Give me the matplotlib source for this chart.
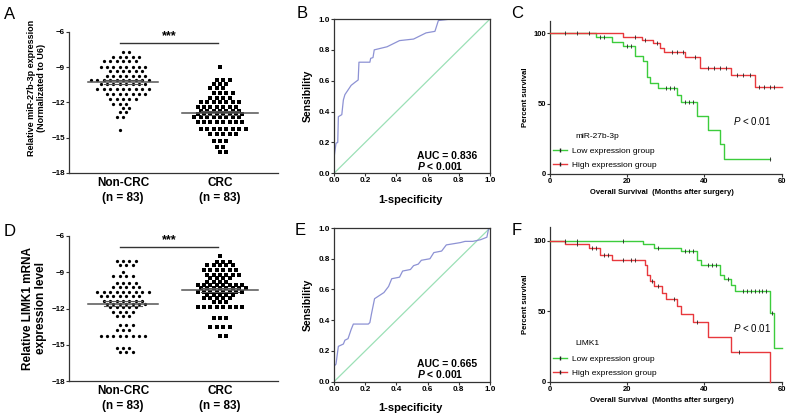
import numpy as np
import matplotlib
matplotlib.use("Agg")
import matplotlib.pyplot as plt
from matplotlib.lines import Line2D

plt.rcParams['font.family'] = ['Liberation Sans', 'DejaVu Sans']
plt.rcParams['mathtext.fontset'] = 'custom'
plt.rcParams['mathtext.rm'] = 'Liberation Sans'
plt.rcParams['mathtext.it'] = 'Liberation Sans:italic'
plt.rcParams['mathtext.bf'] = 'Liberation Sans:bold'
plt.rcParams['mathtext.bfit'] = 'Liberation Sans:italic:bold'

W, H = 792, 419

# ---- scatter data: (value, count) rows ----
a_noncrc_rows = [(-7.7, 2), (-8.15, 5), (-8.5, 6), (-8.95, 8), (-9.3, 6), (-9.75, 7),
                 (-10.1, 10), (-10.4, 8), (-10.85, 9), (-11.3, 7), (-11.7, 5), (-12.1, 3),
                 (-12.5, 2), (-12.85, 2), (-13.2, 2), (-14.3, 1)]
a_crc_rows = [(-9.0, 1), (-10.1, 3), (-10.45, 3), (-10.8, 3), (-11.2, 4), (-11.65, 4),
              (-12.0, 7), (-12.35, 7), (-12.7, 7), (-12.95, 8), (-13.25, 8), (-13.7, 8),
              (-14.25, 8), (-14.65, 5), (-15.3, 3), (-15.75, 2), (-16.2, 2)]
d_noncrc_rows = [(-8.1, 4), (-8.4, 3), (-9.0, 1), (-9.3, 4), (-9.9, 4), (-10.2, 5),
                 (-10.6, 9), (-11.0, 7), (-11.35, 7), (-11.6, 7), (-11.9, 5), (-12.3, 4),
                 (-12.65, 3), (-13.4, 3), (-13.75, 3), (-14.3, 8), (-15.25, 3), (-15.55, 3)]
d_crc_rows = [(-7.7, 1), (-8.15, 3), (-8.45, 5), (-8.85, 6), (-9.2, 6), (-9.5, 4),
              (-9.85, 4), (-10.1, 8), (-10.35, 8), (-10.6, 8), (-10.85, 5), (-11.15, 5),
              (-11.45, 3), (-11.85, 8), (-12.75, 3), (-13.5, 4), (-14.3, 2)]
group_labels = ["Non-CRC\n(n = 83)", "CRC\n(n = 83)"]
a_ylabel = "Relative miR-27b-3p expression\n(Normalizated to U6)"
d_ylabel = "Relative LIMK1 mRNA\nexpression level"

# ---- ROC curves ----
b_fpr = [0, 0, 0.013, 0.024, 0.028, 0.05, 0.06, 0.07, 0.09, 0.11, 0.135, 0.155, 0.16,
         0.23, 0.235, 0.25, 0.258, 0.34, 0.38, 0.42, 0.51, 0.55, 0.59, 0.647, 0.669, 0.75, 1.0]
b_tpr = [0, 0.1, 0.195, 0.2, 0.367, 0.38, 0.475, 0.51, 0.54, 0.57, 0.59, 0.605, 0.72,
         0.72, 0.745, 0.75, 0.80, 0.82, 0.84, 0.86, 0.87, 0.89, 0.91, 0.92, 0.99, 1.0, 1.0]
e_fpr = [0, 0, 0.013, 0.02, 0.028, 0.06, 0.07, 0.09, 0.10, 0.11, 0.124, 0.22, 0.23, 0.24,
         0.25, 0.26, 0.29, 0.32, 0.35, 0.37, 0.42, 0.44, 0.49, 0.51, 0.54, 0.56, 0.615,
         0.64, 0.69, 0.72, 0.81, 0.84, 0.89, 0.94, 0.98, 0.99, 1.0]
e_tpr = [0, 0.1, 0.115, 0.17, 0.23, 0.245, 0.27, 0.28, 0.31, 0.34, 0.375, 0.375, 0.385,
         0.44, 0.49, 0.54, 0.56, 0.58, 0.62, 0.67, 0.68, 0.72, 0.73, 0.755, 0.765, 0.79,
         0.80, 0.84, 0.85, 0.89, 0.905, 0.913, 0.913, 0.924, 0.94, 0.99, 1.0]
b_auc, e_auc = "0.836", "0.665"

# ---- Kaplan-Meier curves: event times, survival (%) after event, censored times ----
c_low_t = [0, 12, 16, 19, 22, 24, 25, 26, 28, 33, 34, 38, 41, 44, 45]
c_low_s = [100, 97.3, 93.5, 90.8, 84.0, 80.5, 69.0, 65.0, 61.0, 56.0, 51.0, 41.0, 31.0, 21.0, 10.5]
c_low_end = 57
c_low_cens = [13, 14, 20, 21, 30, 31, 32, 35, 36, 37, 57]
c_high_t = [0, 19, 23.7, 26.6, 28.5, 29.5, 35, 38.9, 46.8, 53.1]
c_high_s = [100, 97.6, 95.3, 92.9, 89.8, 86.5, 83.4, 75.6, 70.6, 61.6]
c_high_end = 60
c_high_cens = [4, 7, 10, 22, 24.6, 27.6, 31.5, 33, 34.5, 37.5, 41, 42.5, 44, 45.5,
               48.3, 50, 51.8, 54, 55.5, 57, 58]
f_low_t = [0, 24, 27, 34, 38, 39, 44, 45, 47, 48, 57, 58]
f_low_s = [100, 97.6, 95.0, 92.4, 86.5, 83.0, 76.0, 72.6, 68.6, 64.5, 48.6, 24.0]
f_low_end = 60
f_low_cens = [4, 7, 19, 28, 35, 36, 37, 41, 42, 43, 46, 50, 51, 52, 53, 54, 55, 56, 57.5]
f_high_t = [0, 4, 10, 13, 16, 24.5, 25, 26, 27, 29, 30, 33, 34, 37, 41, 47, 57]
f_high_s = [100, 97.6, 95.0, 90.0, 86.5, 82.5, 75.6, 71.6, 67.6, 63.0, 58.5, 54.0,
            48.0, 42.0, 31.6, 21.0, 0.0]
f_high_end = 57
f_high_cens = [7, 11, 12, 14, 15, 19, 21, 22, 26.5, 28, 32, 38, 49]

GREEN = '#3ccc3c'
RED = '#e8383d'
ROC_BLUE = '#8d92d4'
DIAG = '#9be0b6'
AXC = '#333333'


def expand(rows):
    out = []
    for v, n in rows:
        out += [v] * n
    return np.array(out)


def swarm_x(vals, center, step=0.066):
    # rows of equal value spread sideways, consecutive rows staggered
    xs = np.empty(len(vals))
    for i, v in enumerate(np.unique(vals)[::-1]):
        idx = np.where(vals == v)[0]
        n = len(idx)
        off = (np.arange(n) - (n - 1) / 2) * step
        if (n + 1) % 2 != i % 2:
            off += step / 2 * (1 if (i // 2) % 2 == 0 else -1)
        xs[idx] = center + off
    return xs


def px_axes(fig, left, right, top, bottom):
    return fig.add_axes([left / W, 1 - bottom / H, (right - left) / W, (bottom - top) / H])


def style_spines(ax, box=False, labelsize=5.8):
    for s in ['top', 'right']:
        ax.spines[s].set_visible(box)
    for s in ax.spines.values():
        s.set_color(AXC)
        s.set_linewidth(0.9)
    ax.tick_params(direction='out', length=2, width=0.8, color=AXC, pad=1, labelsize=labelsize)
    for lab in ax.get_xticklabels() + ax.get_yticklabels():
        lab.set_fontweight('bold')


def dot_panel(ax, rows0, rows1, ylabel, ylab_x, ylab_y, ylab_size):
    v0, v1 = expand(rows0), expand(rows1)
    ax.scatter(swarm_x(v0, 0), v0, s=5.5, marker='o', color='black', linewidths=0)
    ax.scatter(swarm_x(v1, 1), v1, s=6, marker='s', color='black', linewidths=0)
    for c, v, hw in [(0, v0, 0.36), (1, v1, 0.39)]:
        m = v.mean()
        sem = v.std(ddof=1) / np.sqrt(len(v))
        ax.plot([c - hw, c + hw], [m, m], color='#555555', lw=1.1, zorder=3)
        for e in (m - sem, m + sem):
            ax.plot([c - 0.2, c + 0.2], [e, e], color='#555555', lw=0.8, zorder=3)
    ax.plot([-0.03, 0.98], [-6.95, -6.95], color=AXC, lw=1.0)
    ax.text(0.475, -6.85, "***", ha='center', va='bottom', fontsize=9, fontweight='bold')
    ax.set_xlim(-0.557, 1.598)
    ax.set_ylim(-18, -6)
    ax.set_yticks([-6, -9, -12, -15, -18])
    ax.set_xticks([0, 1])
    ax.set_xticklabels(group_labels, fontsize=8.5, fontweight='bold', linespacing=1.3)
    style_spines(ax)
    ax.tick_params(axis='x', length=0, pad=3, labelsize=8.5)
    ax.set_ylabel(ylabel, fontsize=ylab_size, fontweight='bold', linespacing=1.1)
    ax.yaxis.set_label_coords(ylab_x, ylab_y)


def roc_panel(ax, fpr, tpr, auc):
    ax.plot([0, 1], [0, 1], color=DIAG, lw=0.9)
    ax.plot(fpr, tpr, color=ROC_BLUE, lw=0.9)
    ax.set_xlim(0, 1)
    ax.set_ylim(0, 1)
    ticks = [0.0, 0.2, 0.4, 0.6, 0.8, 1.0]
    ax.set_xticks(ticks)
    ax.set_yticks(ticks)
    ax.set_xticklabels([f"{t:.1f}" for t in ticks])
    ax.set_yticklabels([f"{t:.1f}" for t in ticks])
    style_spines(ax, box=True)
    ax.set_xlabel("1-specificity", fontsize=8, fontweight='bold')
    ax.set_ylabel("Sensibility", fontsize=7.5, fontweight='bold')
    ax.xaxis.set_label_coords(0.49, -0.14)
    ax.yaxis.set_label_coords(-0.135, 0.5)
    ax.text(0.53, 0.115, "AUC = " + auc, fontsize=7.5, fontweight='bold', va='center')
    ax.text(0.53, 0.047, r"$\mathbfit{P}$ < 0.001", fontsize=7.5, fontweight='bold', va='center')


def km_curve(ax, t, s, end, cens, color):
    tt = list(t) + [end]
    ss = list(s) + [s[-1]]
    ax.step(tt, ss, where='post', color=color, lw=1.0, clip_on=False, zorder=3)
    cy = [s[np.searchsorted(t, c, side='right') - 1] for c in cens]
    ax.plot(cens, cy, ls='none', marker='|', ms=2.5, mew=0.6, color='#222222',
            clip_on=False, zorder=4)


def km_panel(ax, low, high, title, ytop):
    km_curve(ax, *low, GREEN)
    km_curve(ax, *high, RED)
    ax.set_xlim(0, 60)
    ax.set_ylim(0, ytop)
    ax.set_xticks([0, 20, 40, 60])
    ax.set_yticks([0, 50, 100])
    style_spines(ax, labelsize=5.5)
    ax.set_xlabel("Overall Survival  (Months after surgery)", fontsize=5.5, fontweight='bold')
    ax.set_ylabel("Percent survival", fontsize=5.6, fontweight='bold')
    ax.xaxis.set_label_coords(0.483, -0.1)
    ax.yaxis.set_label_coords(-0.09, 0.5)
    ax.text(47.4, 38, r"$\mathit{P}$ < 0.01", fontsize=7, va='center')
    ax.text(0.108, 0.245, title, transform=ax.transAxes, fontsize=6, va='center')
    handles = [Line2D([], [], color=GREEN, lw=1.0, marker='|', ms=2.5, mec='#222222'),
               Line2D([], [], color=RED, lw=1.0, marker='|', ms=2.5, mec='#222222')]
    ax.legend(handles, ["Low expression group", "High expression group"],
              loc='upper left', bbox_to_anchor=(0.0, 0.195), frameon=False,
              fontsize=6, handlelength=1.6, handletextpad=0.6, labelspacing=0.75,
              borderpad=0.2, borderaxespad=0.2)


fig = plt.figure(figsize=(W / 100, H / 100), dpi=100)

axA = px_axes(fig, 69, 278, 32, 173)
dot_panel(axA, a_noncrc_rows, a_crc_rows, a_ylabel, -0.112, 0.6, 6.5)
axD = px_axes(fig, 69, 278, 235.7, 381.3)
dot_panel(axD, d_noncrc_rows, d_crc_rows, d_ylabel, -0.105, 0.5, 8.5)

axB = px_axes(fig, 334, 490, 19, 173.3)
roc_panel(axB, b_fpr, b_tpr, b_auc)
axE = px_axes(fig, 334, 490, 228, 381.7)
roc_panel(axE, e_fpr, e_tpr, e_auc)

axC = px_axes(fig, 550, 781.7, 20.7, 174)
km_panel(axC, (c_low_t, c_low_s, c_low_end, c_low_cens),
         (c_high_t, c_high_s, c_high_end, c_high_cens), "miR-27b-3p", 109)
axF = px_axes(fig, 550, 781.7, 227.3, 381.7)
km_panel(axF, (f_low_t, f_low_s, f_low_end, f_low_cens),
         (f_high_t, f_high_s, f_high_end, f_high_cens), "LIMK1", 109.5)

for letter, x, y in [("A", 9.5, 14.5), ("B", 302, 13), ("C", 517, 14),
                     ("D", 10, 231), ("E", 300.5, 230.5), ("F", 517, 230.5)]:
    fig.text(x / W, 1 - y / H, letter, fontsize=12, ha='center', va='center')

fig.savefig("out.png", dpi=100)
